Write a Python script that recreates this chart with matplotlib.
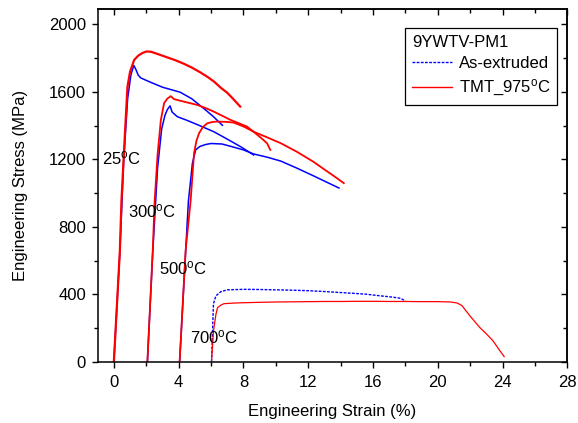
import matplotlib
matplotlib.use("Agg")
import matplotlib.pyplot as plt
from matplotlib.ticker import MultipleLocator
from matplotlib.lines import Line2D

plt.rcParams["font.family"] = ["Liberation Sans", "DejaVu Sans"]
plt.rcParams["mathtext.fontset"] = "custom"
plt.rcParams["mathtext.rm"] = "Liberation Sans"
plt.rcParams["mathtext.it"] = "Liberation Sans:italic"

# --- tensile curves: strain (%) / stress (MPa) ---
# TMT_975C
tmt_25_x = [0, 0.37, 0.47, 0.6, 0.72, 0.84, 1.0, 1.25, 1.5, 1.75, 2.0, 2.3, 2.7, 3.2,
            3.8, 4.3, 4.8, 5.3, 5.8, 6.2, 6.6, 7.0, 7.4, 7.8]
tmt_25_y = [0, 659, 955, 1200, 1420, 1631, 1720, 1789, 1815, 1830, 1840, 1838, 1825, 1808,
            1788, 1768, 1745, 1718, 1688, 1660, 1625, 1595, 1555, 1513]
tmt_300_x = [2.07, 2.4, 2.52, 2.7, 2.9, 3.1, 3.3, 3.51, 3.7, 3.92, 4.5, 5.15, 5.7, 6.17,
             6.7, 7.2, 7.7, 8.23, 8.8, 9.2, 9.46, 9.66]
tmt_300_y = [0, 659, 955, 1230, 1433, 1533, 1560, 1575, 1558, 1552, 1538, 1523, 1503, 1483,
             1458, 1434, 1415, 1394, 1350, 1318, 1295, 1256]
tmt_500_x = [4.06, 4.43, 4.74, 4.95, 5.1, 5.26, 5.5, 5.77, 6.1, 6.4, 7.0, 7.4, 8.0, 8.63,
             9.4, 10.3, 11.3, 12.3, 13.0, 13.5, 14.2]
tmt_500_y = [0, 659, 955, 1236, 1310, 1355, 1392, 1414, 1422, 1424, 1422, 1418, 1395, 1364,
             1333, 1296, 1245, 1187, 1140, 1107, 1059]
tmt_700_x = [6.03, 6.15, 6.3, 6.4, 6.6, 6.8, 7.5, 8.2, 9, 10, 11, 12, 13, 14, 15, 16, 17,
             18, 19, 20, 20.8, 21.2, 21.5, 22.0, 22.6, 23.0, 23.4, 23.8, 24.1]
tmt_700_y = [0, 180, 280, 320, 335, 344, 348, 350, 352, 354, 355, 356, 357, 357, 358, 358,
             357, 357, 356, 356, 354, 348, 332, 270, 202, 165, 125, 70, 30]

# As-extruded
ext_25_x = [0, 0.37, 0.6, 0.85, 1.05, 1.23, 1.35, 1.5, 1.66, 2.2, 3.0, 4.1, 4.8, 5.15,
            5.6, 6.15, 6.7]
ext_25_y = [0, 650, 1180, 1560, 1700, 1757, 1735, 1700, 1683, 1660, 1628, 1598, 1560, 1533,
            1498, 1453, 1402]
ext_300_x = [2.07, 2.4, 2.7, 2.95, 3.15, 3.3, 3.47, 3.6, 3.92, 4.5, 5.3, 6.17, 7.0, 7.83,
             8.63]
ext_300_y = [0, 650, 1150, 1380, 1460, 1495, 1517, 1480, 1453, 1432, 1400, 1364, 1320, 1275,
             1226]
ext_500_x = [4.06, 4.43, 4.6, 4.85, 5.05, 5.3, 5.66, 6.0, 6.68, 7.3, 8.0, 8.63, 9.5, 10.3,
             11.3, 12.35, 13.2, 13.9]
ext_500_y = [0, 650, 950, 1177, 1256, 1276, 1288, 1294, 1291, 1275, 1256, 1232, 1212, 1190,
             1148, 1101, 1062, 1030]
ext_700_x = [6.03, 6.1, 6.15, 6.3, 6.6, 7.0, 8, 9, 10, 11, 12, 13, 14, 15, 15.6, 16.4,
             17.2, 17.7, 18.0]
ext_700_y = [0, 200, 344, 390, 415, 426, 429, 428, 426, 424, 421, 416, 410, 404, 400, 391,
             383, 376, 360]

temp_labels = ["25$^\\mathrm{o}$C", "300$^\\mathrm{o}$C", "500$^\\mathrm{o}$C", "700$^\\mathrm{o}$C"]
label_x = [0.46, 2.34, 4.28, 6.17]
label_y = [1209, 894, 556, 146]

BLUE = "#0000ff"
RED = "#ff0000"

fig = plt.figure(figsize=(5.78, 4.23), dpi=100)
ax = fig.add_axes([0.169, 0.145, 0.8125, 0.833])

# as-extruded first so the TMT curves sit on top
ax.plot(ext_25_x, ext_25_y, color=BLUE, lw=1.1)
ax.plot(ext_300_x, ext_300_y, color=BLUE, lw=1.1)
ax.plot(ext_500_x, ext_500_y, color=BLUE, lw=1.1)
ax.plot(ext_700_x, ext_700_y, color=BLUE, lw=1.0, linestyle=(0, (2, 1)))

ax.plot(tmt_25_x, tmt_25_y, color=RED, lw=1.6)
ax.plot(tmt_300_x, tmt_300_y, color=RED, lw=1.3)
ax.plot(tmt_500_x, tmt_500_y, color=RED, lw=1.3)
ax.plot(tmt_700_x, tmt_700_y, color=RED, lw=0.9)

for t, x, y in zip(temp_labels, label_x, label_y):
    ax.text(x, y, t, fontsize=12, ha="center", va="center")

ax.set_xlim(-1, 28)
ax.set_ylim(0, 2090)
ax.xaxis.set_major_locator(MultipleLocator(4))
ax.xaxis.set_minor_locator(MultipleLocator(2))
ax.yaxis.set_major_locator(MultipleLocator(400))
ax.yaxis.set_minor_locator(MultipleLocator(200))

ax.tick_params(which="both", direction="out", top=False, right=False,
               labelsize=12, width=1)
ax.tick_params(which="major", length=4.5)
ax.tick_params(which="minor", length=3)
ax.tick_params(axis="x", pad=5)
ax.tick_params(axis="y", pad=4)

# inward ticks on top and right spines
sec_x = ax.secondary_xaxis("top")
sec_x.xaxis.set_major_locator(MultipleLocator(4))
sec_x.xaxis.set_minor_locator(MultipleLocator(2))
sec_x.tick_params(which="both", direction="in", labeltop=False, width=1)
sec_x.tick_params(which="major", length=4.5)
sec_x.tick_params(which="minor", length=3)
sec_y = ax.secondary_yaxis("right")
sec_y.yaxis.set_major_locator(MultipleLocator(400))
sec_y.yaxis.set_minor_locator(MultipleLocator(200))
sec_y.tick_params(which="both", direction="in", labelright=False, width=1)
sec_y.tick_params(which="major", length=4.5)
sec_y.tick_params(which="minor", length=3)

for s in list(ax.spines.values()) + [sec_x.spines["top"], sec_y.spines["right"]]:
    s.set_linewidth(1.1)

ax.set_xlabel("Engineering Strain (%)", fontsize=12, labelpad=10)
ax.set_ylabel("Engineering Stress (MPa)", fontsize=12, labelpad=15)

handles = [Line2D([], [], color=BLUE, lw=1.0, linestyle=(0, (2, 1))),
           Line2D([], [], color=RED, lw=1.0)]
leg = ax.legend(handles, ["As-extruded", "TMT_975$^\\mathrm{o}$C"],
                title="9YWTV-PM1", loc="upper right", bbox_to_anchor=(0.978, 0.947),
                borderaxespad=0, fontsize=12, title_fontsize=12, fancybox=False,
                framealpha=1, edgecolor="black", handlelength=2.4, handletextpad=0.4,
                labelspacing=0.4, borderpad=0.4, alignment="left")
leg.get_frame().set_linewidth(0.9)

fig.savefig("out.png", dpi=100)
